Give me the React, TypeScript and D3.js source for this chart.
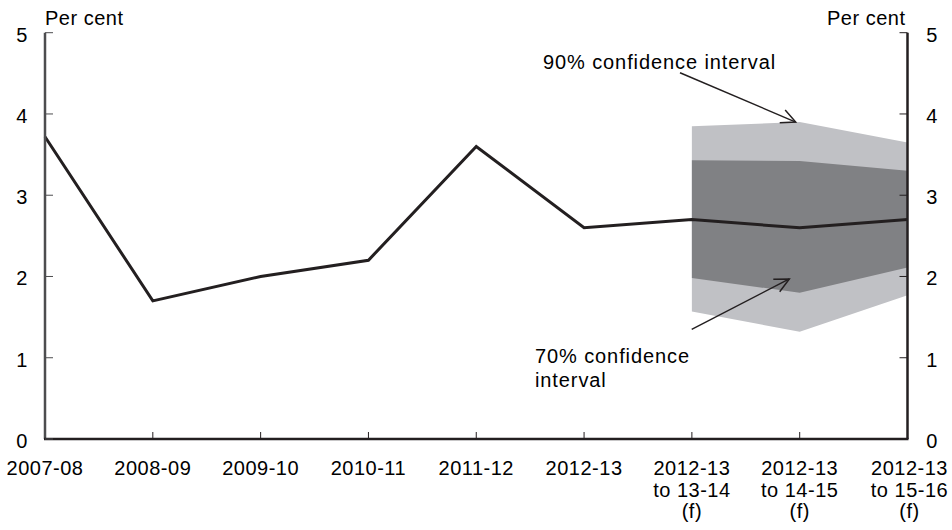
import React from "react";
import * as d3 from "d3";

const categories = [
  ["2007-08"],
  ["2008-09"],
  ["2009-10"],
  ["2010-11"],
  ["2011-12"],
  ["2012-13"],
  ["2012-13", "to 13-14", "(f)"],
  ["2012-13", "to 14-15", "(f)"],
  ["2012-13", "to 15-16", "(f)"],
];
const growth = [3.72, 1.7, 2.0, 2.2, 3.6, 2.6, 2.7, 2.6, 2.7];
const bandIdx = [6, 7, 8];
const ci90Upper = [3.85, 3.9, 3.65];
const ci90Lower = [1.57, 1.32, 1.77];
const ci70Upper = [3.43, 3.42, 3.3];
const ci70Lower = [1.98, 1.8, 2.11];
const yTicks = [0, 1, 2, 3, 4, 5];

const W = 952, H = 530;
const L = 45, R = 907.5, T = 32.7, B = 439;
const FONT = "'Liberation Sans', Arial, sans-serif";
const FS = 20;
const LS = 0.5;
const LSA = 0.9;

export default function App() {
  const x = d3.scaleLinear().domain([0, categories.length - 1]).range([L, R]);
  const y = d3.scaleLinear().domain([0, 5]).range([B, T]);
  const line = d3.line<number>().x((_, i) => x(i)).y((d) => y(d));
  const area = (up: number[], lo: number[]) =>
    d3.area<number>()
      .x((_, i) => x(bandIdx[i]))
      .y0((_, i) => y(lo[i]))
      .y1((d) => y(d))(up) as string;

  const arrowHead = (x1: number, y1: number, x2: number, y2: number) => {
    const a = Math.atan2(y2 - y1, x2 - x1);
    const len = 16, sp = 0.45;
    const p1 = [x2 - len * Math.cos(a - sp), y2 - len * Math.sin(a - sp)];
    const p2 = [x2 - len * Math.cos(a + sp), y2 - len * Math.sin(a + sp)];
    return `M${p1[0]},${p1[1]}L${x2},${y2}L${p2[0]},${p2[1]}`;
  };

  const a90 = { x1: 680, y1: 72.7, x2: x(7) - 4, y2: y(3.9) };
  const a70 = { x1: 691.7, y1: 329.3, x2: 789.3, y2: y(1.97) };

  return (
    <svg width={W} height={H} style={{ position: "absolute", left: 0, top: 0 }} fontFamily={FONT} letterSpacing={LS}>
      <rect width={W} height={H} fill="#fff" />
      <path d={area(ci90Upper, ci90Lower)} fill="#c0c1c5" />
      <path d={area(ci70Upper, ci70Lower)} fill="#808184" />
      <path d={line(growth) as string} fill="none" stroke="#231f20" strokeWidth={3} strokeLinejoin="miter" />

      {/* axes */}
      <line x1={L} x2={L} y1={T} y2={B} stroke="#4d4d4f" strokeWidth={2.5} />
      <line x1={R} x2={R} y1={T} y2={B} stroke="#231f20" strokeWidth={2.5} />
      <line x1={L - 1} x2={R + 1} y1={B} y2={B} stroke="#231f20" strokeWidth={2.5} />
      {yTicks.map((t) => (
        <g key={t}>
          <line x1={L} x2={L + 8} y1={y(t)} y2={y(t)} stroke="#4d4d4f" strokeWidth={1} />
          <line x1={R - 8} x2={R} y1={y(t)} y2={y(t)} stroke="#231f20" strokeWidth={1} />
          <text x={22} y={y(t) + 9} fontSize={FS} textAnchor="middle" fill="#000">{t}</text>
          <text x={932} y={y(t) + 9} fontSize={FS} textAnchor="middle" fill="#000">{t}</text>
        </g>
      ))}
      {categories.map((c, i) => (
        <g key={i}>
          {i > 0 && i < categories.length - 1 && (
            <line x1={x(i)} x2={x(i)} y1={B} y2={B - 7} stroke="#231f20" strokeWidth={1} />
          )}
          {c.map((s, j) => (
            <text key={j} x={x(i) + (i === 8 ? 2 : 0)} y={475 + j * 21.7} fontSize={FS} textAnchor="middle" fill="#000">{s}</text>
          ))}
        </g>
      ))}
      <text x={L} y={25} fontSize={FS} fill="#000">Per cent</text>
      <text x={R - 2} y={25} fontSize={FS} textAnchor="end" fill="#000">Per cent</text>

      {/* annotations */}
      <text x={543} y={69} fontSize={FS} letterSpacing={LSA} fill="#000">90% confidence interval</text>
      <line x1={a90.x1} y1={a90.y1} x2={a90.x2} y2={a90.y2} stroke="#231f20" strokeWidth={1.5} />
      <path d={arrowHead(a90.x1, a90.y1, a90.x2, a90.y2)} fill="none" stroke="#231f20" strokeWidth={1.5} />
      <text x={535} y={363} fontSize={FS} letterSpacing={LSA} fill="#000">70% confidence</text>
      <text x={535} y={387} fontSize={FS} letterSpacing={LSA} fill="#000">interval</text>
      <line x1={a70.x1} y1={a70.y1} x2={a70.x2} y2={a70.y2} stroke="#231f20" strokeWidth={1.5} />
      <path d={arrowHead(a70.x1, a70.y1, a70.x2, a70.y2)} fill="none" stroke="#231f20" strokeWidth={1.5} />
    </svg>
  );
}
